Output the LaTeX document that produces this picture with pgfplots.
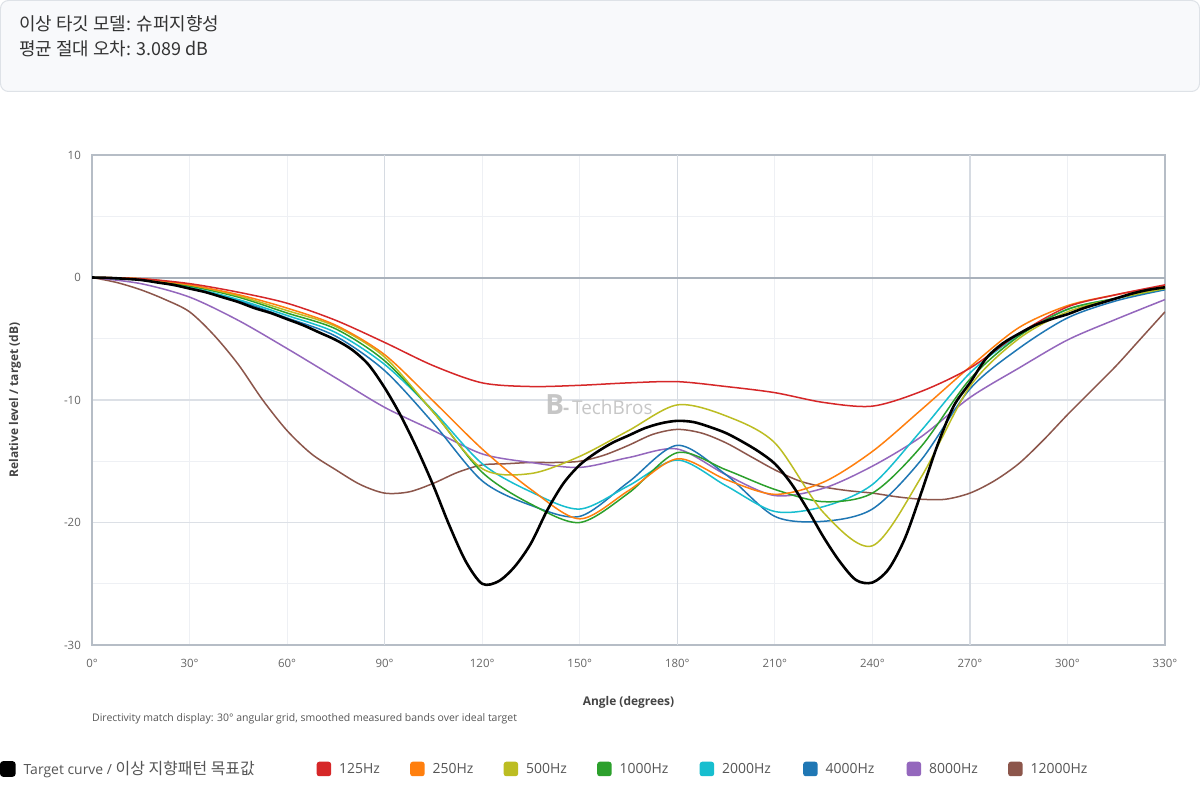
\documentclass[border=0pt]{standalone}
\usepackage{pgfplots}
\pgfplotsset{compat=1.18}
\usepackage{fontspec}
\setmainfont{Open Sans}
\newfontfamily\kr{Noto Sans CJK KR}
\definecolor{c125}{HTML}{D62728}
\definecolor{c250}{HTML}{FF7F0E}
\definecolor{c500}{HTML}{BCBD22}
\definecolor{c1k}{HTML}{2CA02C}
\definecolor{c2k}{HTML}{17BECF}
\definecolor{c4k}{HTML}{1F77B4}
\definecolor{c8k}{HTML}{9467BD}
\definecolor{c12k}{HTML}{8C564B}
\definecolor{hdrfill}{HTML}{F8F9FB}
\definecolor{hdrborder}{HTML}{DEE2E7}
\definecolor{hdrtext}{HTML}{333333}
\definecolor{gridlight}{HTML}{EEF0F4}
\definecolor{gridmed}{HTML}{DCE0E6}
\definecolor{griddark}{HTML}{D6DBE2}
\definecolor{zeroline}{HTML}{A9B1BB}
\definecolor{axisgray}{HTML}{B6BDC6}
\definecolor{tickcol}{HTML}{666666}
\definecolor{labcol}{HTML}{444444}
\definecolor{legtext}{HTML}{555555}
\definecolor{wm}{HTML}{BDBDBD}
\begin{document}
\begin{tikzpicture}[x=1bp,y=1bp]
\useasboundingbox (0,0) rectangle (1200,-800);
\fill[white] (0,0) rectangle (1200,-800);
% header box
\draw[draw=hdrborder, fill=hdrfill, line width=1bp, rounded corners=8bp] (0.5,-0.5) rectangle (1199.5,-91.5);
\node[anchor=base west, inner sep=0pt, text=hdrtext, font=\kr\fontsize{18}{20}\selectfont] at (19,-31) {이상 타깃 모델: 슈퍼지향성};
\node[anchor=base west, inner sep=0pt, text=hdrtext, font=\kr\fontsize{18}{20}\selectfont] at (19,-55.5) {평균 절대 오차: 3.089 dB};

% background grid axis
\begin{axis}[
  at={(92bp,-645bp)}, anchor=south west, scale only axis,
  width=1073bp, height=490bp,
  xmin=0, xmax=330, ymin=-30, ymax=10,
  xtick={30,60,120,150,210,240,300},
  ytick={-25,-15,-5,5},
  xticklabels={}, yticklabels={},
  xmajorgrids=true, ymajorgrids=true,
  major grid style={color=gridlight, line width=1bp},
  tick style={draw=none},
  axis line style={draw=none},
]
\end{axis}

% main axis
\begin{axis}[
  at={(92bp,-645bp)}, anchor=south west, scale only axis,
  width=1073bp, height=490bp,
  xmin=0, xmax=330, ymin=-30, ymax=10,
  xtick={0,30,...,330},
  xticklabels={0°,30°,60°,90°,120°,150°,180°,210°,240°,270°,300°,330°},
  ytick={-30,-20,-10,0,10},
  yticklabels={-30,-20,-10,0,10},
  xmajorgrids=false, ymajorgrids=true,
  major grid style={color=gridmed, line width=1.2bp},
  extra x ticks={90,180,270},
  extra x tick labels={},
  extra x tick style={xmajorgrids=true, major grid style={color=griddark, line width=1.3bp}, tick style={draw=none}},
  extra y ticks={0},
  extra y tick labels={},
  extra y tick style={ymajorgrids=true, major grid style={color=zeroline, line width=2bp}, tick style={draw=none}},
  tick style={draw=none},
  axis line style={draw=axisgray, line width=1.8bp},
  tick label style={font=\fontsize{11.5}{13}\selectfont, text=tickcol},
  y tick label style={anchor=east, inner sep=0pt, xshift=-11bp},
  x tick label style={anchor=center, inner sep=0pt, yshift=-18bp},
  xlabel={\bfseries Angle (degrees)},
  ylabel={\bfseries Relative level / target (dB)},
  label style={font=\fontsize{12}{14}\selectfont, text=labcol},
  xlabel style={at={(axis description cs:0.5,-0.118)}, anchor=center, inner sep=0pt},
  ylabel style={at={(axis description cs:-0.0718,0.5)}, anchor=center, inner sep=0pt},
  legend style={draw=none, fill=none, at={(axis description cs:-0.0857,-0.253)}, anchor=west,
    inner sep=0pt, outer sep=0pt, column sep=0pt,
    nodes={inner sep=0pt, text=legtext, font=\fontsize{14}{16}\selectfont}},
  legend columns=-1,
  reverse legend,
  legend image code/.code={\fill[rounded corners=2bp] (0bp,-6.5bp) rectangle (13bp,6.5bp);},
  every axis plot/.append style={smooth, no markers, line width=1.5bp},
  clip=true,
]
\addplot[color=c12k] coordinates {(0,0) (7.5,-0.4) (15,-1.0) (22.5,-1.8) (30,-2.8) (37.5,-4.7) (45,-7.1) (52.5,-10.0) (60,-12.5) (67.5,-14.4) (75,-15.7) (82.5,-16.9) (90,-17.6) (97.5,-17.5) (105,-16.8) (112.5,-15.9) (120,-15.3) (127.5,-15.2) (135,-15.1) (142.5,-15.1) (150,-15.0) (157.5,-14.5) (165,-13.7) (172.5,-12.8) (180,-12.4) (187.5,-12.7) (195,-13.5) (202.5,-14.6) (210,-15.7) (217.5,-16.6) (225,-17.1) (232.5,-17.4) (240,-17.6) (247.5,-17.9) (255,-18.1) (262.5,-18.1) (270,-17.6) (277.5,-16.6) (285,-15.2) (292.5,-13.3) (300,-11.2) (307.5,-9.2) (315,-7.2) (322.5,-5.0) (330,-2.8)};
\addlegendentry{\kern8bp 12000Hz}
\addplot[color=c8k] coordinates {(0,0) (15,-0.5) (30,-1.6) (45,-3.5) (60,-5.8) (75,-8.2) (90,-10.6) (105,-12.5) (120,-14.4) (135,-15.1) (150,-15.5) (165,-14.7) (180,-14.0) (195,-16.1) (210,-17.8) (225,-17.2) (240,-15.4) (255,-13.0) (270,-9.8) (285,-7.4) (300,-5.1) (315,-3.4) (330,-1.8)};
\addlegendentry{\kern8bp\makebox[79bp][l]{8000Hz}}
\addplot[color=c4k] coordinates {(0,0) (15,-0.2) (30,-0.9) (45,-1.9) (60,-3.3) (75,-4.8) (90,-7.6) (105,-11.9) (120,-16.6) (135,-18.6) (150,-19.5) (165,-16.7) (180,-13.7) (195,-16.1) (210,-19.5) (225,-19.9) (240,-18.9) (255,-14.9) (270,-9.1) (285,-5.8) (300,-3.3) (315,-1.9) (330,-1.0)};
\addlegendentry{\kern8bp\makebox[81bp][l]{4000Hz}}
\addplot[color=c2k] coordinates {(0,0) (15,-0.2) (30,-0.8) (45,-1.8) (60,-3.1) (75,-4.5) (90,-7.1) (105,-10.9) (120,-15.2) (135,-17.5) (150,-18.9) (165,-17.0) (180,-14.9) (195,-17.0) (210,-19.1) (225,-18.7) (240,-16.9) (255,-12.5) (270,-7.8) (285,-4.7) (300,-2.6) (315,-1.7) (330,-0.9)};
\addlegendentry{\kern8bp\makebox[81bp][l]{2000Hz}}
\addplot[color=c1k] coordinates {(0,0) (15,-0.2) (30,-0.7) (45,-1.6) (60,-2.9) (75,-4.2) (90,-6.8) (105,-11.0) (120,-15.9) (135,-18.5) (150,-20.0) (165,-17.6) (180,-14.3) (195,-15.7) (210,-17.3) (225,-18.3) (240,-17.6) (255,-13.8) (270,-8.3) (285,-4.8) (300,-2.6) (315,-1.7) (330,-0.9)};
\addlegendentry{\kern8bp\makebox[80bp][l]{1000Hz}}
\addplot[color=c500] coordinates {(0,0) (15,-0.1) (30,-0.6) (45,-1.5) (60,-2.7) (75,-4.0) (90,-6.5) (105,-11.0) (120,-15.6) (135,-16.0) (150,-14.6) (165,-12.5) (180,-10.4) (195,-11.3) (210,-13.5) (225,-19.2) (240,-21.9) (255,-16.3) (270,-8.9) (285,-5.0) (300,-2.8) (315,-1.7) (330,-0.9)};
\addlegendentry{\kern8bp\makebox[71bp][l]{500Hz}}
\addplot[color=c250] coordinates {(0,0) (15,-0.1) (30,-0.6) (45,-1.4) (60,-2.5) (75,-3.9) (90,-6.3) (105,-10.1) (120,-14.0) (135,-17.3) (150,-19.7) (165,-17.4) (180,-14.8) (195,-16.5) (210,-17.7) (225,-16.7) (240,-14.2) (255,-10.8) (270,-7.3) (285,-4.1) (300,-2.3) (315,-1.4) (330,-0.7)};
\addlegendentry{\kern8bp\makebox[71bp][l]{250Hz}}
\addplot[color=c125] coordinates {(0,0) (15,-0.1) (30,-0.5) (45,-1.2) (60,-2.1) (75,-3.5) (90,-5.3) (105,-7.2) (120,-8.6) (135,-8.9) (150,-8.8) (165,-8.6) (180,-8.5) (195,-8.9) (210,-9.4) (225,-10.2) (240,-10.5) (255,-9.3) (270,-7.4) (285,-4.6) (300,-2.4) (315,-1.4) (330,-0.6)};
\addlegendentry{\kern8bp\makebox[71bp][l]{125Hz}}
\addplot[color=black, line width=2.6bp] coordinates {(0,0) (5,-0.03) (10,-0.1) (15,-0.2) (20,-0.4) (25,-0.6) (30,-0.9) (35,-1.2) (40,-1.6) (45,-2.0) (50,-2.5) (55,-2.9) (60,-3.4) (65,-3.9) (70,-4.5) (75,-5.1) (80,-5.9) (85,-7.1) (90,-9.0) (95,-11.3) (100,-14.0) (105,-17.0) (110,-20.3) (115,-23.2) (120,-25.0) (125,-24.8) (130,-23.6) (135,-21.7) (140,-19.0) (145,-16.8) (150,-15.3) (155,-14.3) (160,-13.5) (165,-12.9) (170,-12.3) (175,-11.9) (180,-11.7) (185,-11.8) (190,-12.2) (195,-12.7) (200,-13.4) (205,-14.2) (210,-15.2) (215,-16.8) (220,-18.9) (225,-21.2) (230,-23.2) (235,-24.7) (240,-24.9) (245,-23.8) (250,-21.3) (255,-17.6) (260,-13.7) (265,-10.5) (270,-8.6) (275,-6.6) (280,-5.4) (285,-4.6) (290,-3.9) (295,-3.4) (300,-3.0) (305,-2.5) (310,-2.1) (315,-1.7) (320,-1.3) (325,-1.0) (330,-0.8)};
\addlegendentry{\kern8bp\makebox[293bp][l]{Target curve / {\kr\fontsize{16}{16}\selectfont 이상 지향패턴 목표값}}}
\node[inner sep=0pt, text=wm, opacity=0.85] at (axis description cs:0.4725,0.4898) {{\fontsize{28}{28}\selectfont\textbf{B}}\kern-1bp{\fontsize{19}{19}\selectfont\textbf{-}\kern3bp TechBros}};
\end{axis}
\node[anchor=west, inner sep=0pt, font=\fontsize{10.5}{12}\selectfont, text=legtext] at (92,-719) {Directivity match display: 30° angular grid, smoothed measured bands over ideal target};
\end{tikzpicture}
\end{document}
